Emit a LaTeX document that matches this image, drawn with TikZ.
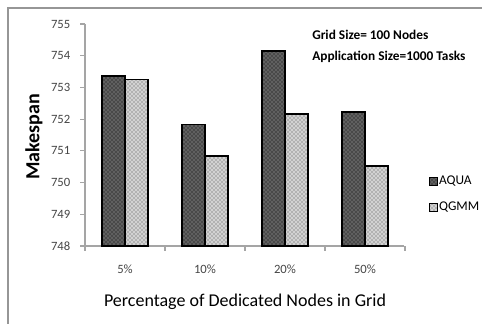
\documentclass[tikz,border=0pt]{standalone}
\usepackage{fontspec}
\setmainfont{Carlito}
\usetikzlibrary{patterns}
\definecolor{FrameGrey}{RGB}{150,150,150}
\definecolor{AxisGrey}{RGB}{165,165,165}
\definecolor{TickGrey}{RGB}{70,70,70}

\begin{document}
\begin{tikzpicture}[x=0.75pt, y=-0.75pt,
    aquabar/.style={draw=black, line width=1.3pt, pattern=crosshatch dots, pattern color=black, preaction={fill=gray!75!black}},
    qgmmbar/.style={draw=black, line width=1.3pt, pattern=crosshatch dots, pattern color=black!70, preaction={fill=gray!35}},
    ticklabel/.style={font=\fontsize{9.5}{10}\selectfont, text=TickGrey}]
    \useasboundingbox (0,0) rectangle (482,324);

    % Frame
    \draw[FrameGrey, line width=1.5pt] (8,324) -- (8,8) -- (482,8);

    % Axes
    \draw[AxisGrey, line width=0.8pt] (85,24) -- (85,246) -- (404,246);
    \foreach \v in {748,...,755} {
        \draw[AxisGrey, line width=0.8pt] (80,{246-(\v-748)*31.71}) -- (85,{246-(\v-748)*31.71});
        \node[ticklabel, anchor=east] (y\v) at (75,{246-(\v-748)*31.71}) {\v};
    }
    \foreach \k in {0,...,4}
        \draw[AxisGrey, line width=0.8pt] ({85+80*\k},246) -- ({85+80*\k},251);

    % Bars
    \foreach \c/\a/\q [count=\i] in {5\%/753.36/753.25, 10\%/751.83/750.83, 20\%/754.16/752.16, 50\%/752.22/750.53} {
        \draw[aquabar] ({85+80*\i-63.3},246) rectangle ({85+80*\i-40},{246-(\a-748)*31.71});
        \draw[qgmmbar] ({85+80*\i-40},246) rectangle ({85+80*\i-17.3},{246-(\q-748)*31.71});
        \node[ticklabel] (cat\i) at ({85+80*\i-40},269) {\c};
    }

    % Titles
    \node[font=\fontsize{13.5}{15}\selectfont] (xtitle) at (245,302) {Percentage of Dedicated Nodes in Grid};
    \node[font=\bfseries\fontsize{15}{17}\selectfont, rotate=90] (ytitle) at (34,137) {Makespan};

    % Info
    \node[font=\bfseries\fontsize{10}{12}\selectfont, anchor=west, inner sep=0pt] (gridsize) at (312,35) {Grid Size= 100 Nodes};
    \node[font=\bfseries\fontsize{10}{12}\selectfont, anchor=west, inner sep=0pt] (appsize) at (312,57) {Application Size=1000 Tasks};

    % Legend
    \draw[aquabar, line width=0.6pt] (429.5,177.5) rectangle (437,185);
    \node[font=\fontsize{10}{11}\selectfont, anchor=west, inner sep=1pt] (aqua) at (437.5,181) {AQUA};
    \draw[qgmmbar, line width=0.6pt] (429.5,203.5) rectangle (437,211);
    \node[font=\fontsize{10}{11}\selectfont, anchor=west, inner sep=1pt] (qgmm) at (437.5,207) {QGMM};
\end{tikzpicture}
\end{document}
